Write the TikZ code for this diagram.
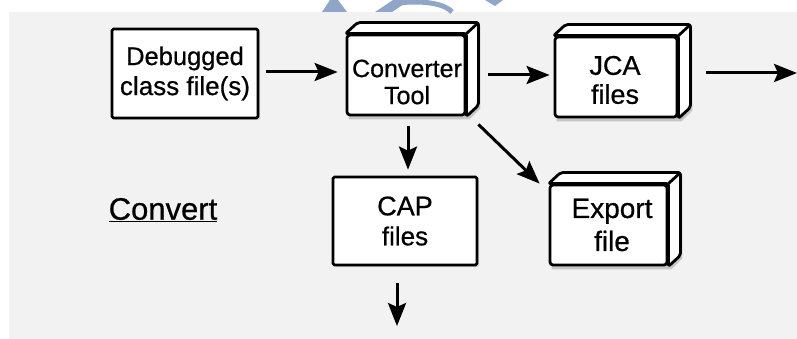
\documentclass[tikz,border=0pt]{standalone}
\usepackage{fontspec}
\setmainfont{Liberation Sans}[FakeBold=0.6]
\usetikzlibrary{arrows.meta,calc,shadows}
\definecolor{bg}{RGB}{242,242,242}
\definecolor{wm}{RGB}{143,166,200}
\tikzset{
  boxline/.style={line width=2.8pt, draw=black, line join=round},
  plainbox/.style={boxline, fill=white, rounded corners=1.5pt, inner sep=0pt, align=center,
    font=\fontsize{26}{30}\selectfont,
    drop shadow={shadow xshift=2pt, shadow yshift=-2pt, opacity=0.25}},
  cubebox/.style={boxline, fill=white, rounded corners=3pt, inner sep=0pt, align=center,
    font=\fontsize{26.5}{31}\selectfont},
  flow/.style={line width=3pt, -{Stealth[length=23pt,width=18pt,inset=4pt]}},
}
\newcommand{\cubefaces}[1]{%
  \fill[black, opacity=0.18] ($(#1.north east)+(14,-8)$) -- ($(#1.south east)+(14,-8)$) -- ($(#1.south east)+(3,3)$) -- ($(#1.south west)+(3,3)$) -- ($(#1.south west)+(3,-2)$) -- ($(#1.south east)+(3,-2)$) -- cycle;
  \draw[boxline, fill=white, rounded corners=2pt] (#1.north west) -- ++(12,-11) -- ($(#1.north east)+(12,-11)$) -- ($(#1.south east)+(12,-11)$) -- (#1.south east) -- (#1.north east) -- cycle;
  \draw[boxline] (#1.north east) -- ++(12,-11);
}
\begin{document}
\begin{tikzpicture}[x=1pt,y=-1pt]
  \useasboundingbox (0,0) rectangle (797,339);
  \fill[white] (0,0) rectangle (797,339);
  \fill[bg] (9,12) rectangle (797,339);
  % watermark fragments
  \fill[wm] (322,12) -- (347,12) -- (338,0) -- (330,0) -- cycle;
  \fill[wm] (375,12) -- (392,12) -- (410,0) -- (393,0) -- cycle;
  \draw[wm, line width=5pt] (398,3) .. controls (425,0) and (445,4) .. (452,12);
  \fill[wm] (485,0) -- (503,0) -- (495,6) -- cycle;

  % nodes
  \node[plainbox, minimum width=146pt, minimum height=89pt] (deb) at (185,73.5)
    {\fontsize{25.5}{30}\selectfont Debugged\\class file(s)};
  \node[cubebox, minimum width=118pt, minimum height=80pt] (conv) at (406,75) {};
  \cubefaces{conv}
  \node[align=center, inner sep=0pt, font=\fontsize{25}{27}\selectfont] (convtxt) at (407,82) {Converter\\Tool};
  \node[cubebox, minimum width=122pt, minimum height=80pt] (jca) at (616,77) {};
  \cubefaces{jca}
  \node[align=center, inner sep=0pt, font=\fontsize{27}{29}\selectfont] (jcatxt) at (615,80) {JCA\\files};
  \node[plainbox, minimum width=144pt, minimum height=88pt] (cap) at (405,221)
    {\fontsize{27}{33}\selectfont CAP\\files};
  \node[cubebox, minimum width=117pt, minimum height=80pt] (exp) at (608.5,225) {};
  \cubefaces{exp}
  \node[align=center, inner sep=0pt, font=\fontsize{28}{33}\selectfont] (exptxt) at (612,225) {Export\\file};

  \node[font=\fontsize{31}{34}\selectfont] (lbl) at (163,210) {\underline{Convert}};

  \coordinate (out1) at (797,73);
  \coordinate (out2) at (397,326);

  % connectors
  \draw[flow] ($(deb.east)+(7,-1.5)$) -- ($(conv.west)+(-8,-3)$);
  \draw[flow] ($(conv.east)+(22,0)$) -- ($(jca.west)+(-4,-2)$);
  \draw[flow] ($(jca.east)+(28,-4)$) -- (out1);
  \draw[flow] ($(conv.south)+(2,10)$) -- ($(cap.north)+(3,-6)$);
  \draw[flow] ($(conv.south east)+(12,8)$) -- ($(exp.north west)+(-9,0)$);
  \draw[flow] ($(cap.south)+(-8,17)$) -- (out2);
\end{tikzpicture}
\end{document}
